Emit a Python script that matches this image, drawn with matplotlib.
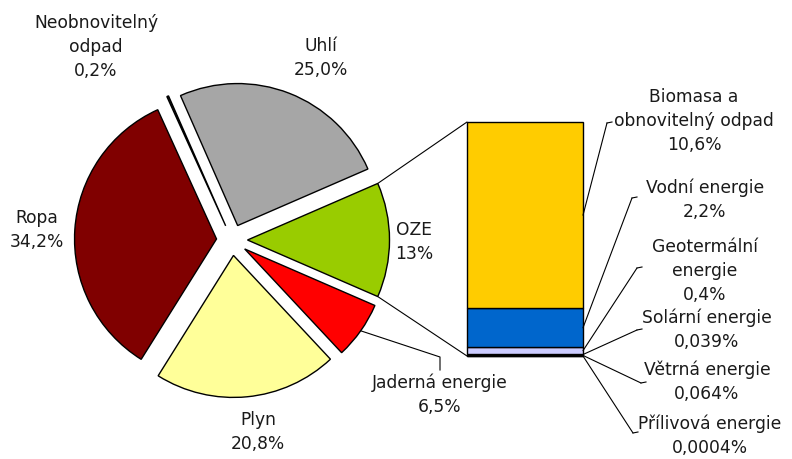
import matplotlib.pyplot as plt
from matplotlib.patches import ConnectionPatch
import numpy as np

# %% Data
# ----------------------------------------------------------------------
pie_labels = ["OZE\n13%", "Uhlí\n25,0%", "Neobnovitelný\nodpad\n0,2%",
              "Ropa\n34,2%", "Plyn\n20,8%", "Jaderná energie\n6,5%"]
pie_values = [13, 25.0, 0.2, 34.2, 20.8, 6.5]
pie_colors = ["#99CC00", "#A6A6A6", "#1A1A1A", "#800000", "#FFFF99", "#FF0000"]

# OZE breakdown, stacked from the bottom up
oze_labels = ["Přílivová energie\n0,0004%", "Větrná energie\n0,064%",
              "Solární energie\n0,039%", "Geotermální\nenergie\n0,4%",
              "Vodní energie\n2,2%", "Biomasa a\nobnovitelný odpad\n10,6%"]
oze_values = [0.0004, 0.064, 0.039, 0.4, 2.2, 10.6]
oze_colors = ["#000000", "#000000", "#000080", "#CCCCFF", "#0066CC", "#FFCC00"]

# %% Layout (pixel coords, y measured from top of image)
W, H = 792, 459
def Y(y):
    return H - y

pie_center = (232, Y(240))
pie_radius = 142
explode_px = 15.5  # pie explode is in data units (pixels here)

txt = dict(fontsize=12.3, family="DejaVu Sans", color="#1A1A1A",
           ha="center", va="center", linespacing=1.4)

fig = plt.figure(figsize=(W / 100, H / 100), dpi=100)
ax = fig.add_axes([0, 0, 1, 1])

# OZE slice centred on the 0 degree direction
start = -pie_values[0] / sum(pie_values) * 360 / 2
wedges, _ = ax.pie(pie_values, colors=pie_colors, startangle=start,
                   explode=[explode_px] * len(pie_values),
                   radius=pie_radius, center=pie_center,
                   wedgeprops=dict(edgecolor="black", linewidth=1))
ax.set_xlim(0, W)
ax.set_ylim(0, H)
ax.set_aspect("equal")
ax.axis("off")

# pie labels
pie_label_pos = [(414, 242), (321, 58), (96, 47), (37, 230), (258, 432), (440, 395)]
for lab, (x, y) in zip(pie_labels, pie_label_pos):
    ax.text(x, Y(y), lab, **txt)

# leader for Jaderná energie
jw = wedges[5]
ang = np.deg2rad((jw.theta1 + jw.theta2) / 2)
jx = jw.center[0] + pie_radius * np.cos(ang)
jy = jw.center[1] + pie_radius * np.sin(ang)
ax.plot([jx, 440, 440], [jy, Y(357), Y(370)], color="black", lw=0.8)

# %% Stacked bar for OZE
bar_left, bar_right, bar_top, bar_bottom = 467, 583, 122, 356
ax_bar = fig.add_axes([bar_left / W, Y(bar_bottom) / H,
                       (bar_right - bar_left) / W, (bar_bottom - bar_top) / H])
total = sum(oze_values)
bottoms = np.concatenate([[0], np.cumsum(oze_values)[:-1]])
ax_bar.bar(0, oze_values, bottom=bottoms, width=1, color=oze_colors,
           edgecolor="black", linewidth=1, clip_on=False)
ax_bar.set_xlim(-0.5, 0.5)
ax_bar.set_ylim(0, total)
ax_bar.axis("off")

# connector lines between the OZE slice and the bar
ow = wedges[0]
for theta, ybar in [(ow.theta2, total), (ow.theta1, 0)]:
    a = np.deg2rad(theta)
    p = (ow.center[0] + pie_radius * np.cos(a), ow.center[1] + pie_radius * np.sin(a))
    con = ConnectionPatch(xyA=p, coordsA=ax.transData, xyB=(-0.5, ybar),
                          coordsB=ax_bar.transData, color="black", lw=0.8)
    fig.add_artist(con)

# bar labels with leader lines
oze_label_pos = [(710, 436), (707, 382), (707, 330), (705, 271), (705, 200), (694, 121)]
leader_ends = [(633, 433), (641, 383), (637, 330), (637, 268), (632, 198), (607, 123)]
for v, b, lab, (x, y), (ex, ey) in zip(oze_values, bottoms, oze_labels,
                                       oze_label_pos, leader_ends):
    ax.text(x, Y(y), lab, **txt)
    con = ConnectionPatch(xyA=(0.5, b + v / 2), coordsA=ax_bar.transData,
                          xyB=(ex, Y(ey)), coordsB=ax.transData, color="black", lw=0.8)
    fig.add_artist(con)
    ax.plot([ex, ex + 5], [Y(ey), Y(ey - 1)], color="black", lw=0.8)

fig.savefig("out.png", dpi=100)
